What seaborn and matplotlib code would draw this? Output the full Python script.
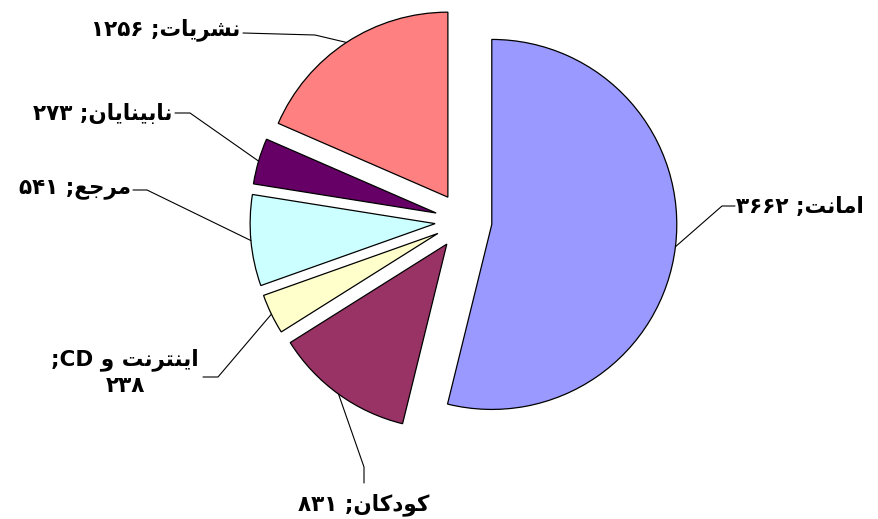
import matplotlib
matplotlib.use("Agg")
import matplotlib.pyplot as plt
import numpy as np
import seaborn as sns

# data (clockwise from 12 o'clock)
labels = ["امانت", "کودکان", "اینترنت و", "مرجع", "نابینایان", "نشریات"]
values = [3662, 831, 238, 541, 273, 1256]
colors = ["#9999FF", "#993366", "#FFFFCC", "#CCFFFF", "#660066", "#FF8080"]

# minimal Arabic-script shaping (matplotlib has no complex text layout)
FORMS = {
    "ا": ("\uFE8D", "\uFE8E"),
    "ب": ("\uFE8F", "\uFE90", "\uFE91", "\uFE92"),
    "ت": ("\uFE95", "\uFE96", "\uFE97", "\uFE98"),
    "ج": ("\uFE9D", "\uFE9E", "\uFE9F", "\uFEA0"),
    "د": ("\uFEA9", "\uFEAA"),
    "ر": ("\uFEAD", "\uFEAE"),
    "ش": ("\uFEB5", "\uFEB6", "\uFEB7", "\uFEB8"),
    "ع": ("\uFEC9", "\uFECA", "\uFECB", "\uFECC"),
    "م": ("\uFEE1", "\uFEE2", "\uFEE3", "\uFEE4"),
    "ن": ("\uFEE5", "\uFEE6", "\uFEE7", "\uFEE8"),
    "و": ("\uFEED", "\uFEEE"),
    "ک": ("\uFB8E", "\uFB8F", "\uFB90", "\uFB91"),
    "ی": ("\uFBFC", "\uFBFD", "\uFBFE", "\uFBFF"),
}
FA_DIGITS = str.maketrans("0123456789", "۰۱۲۳۴۵۶۷۸۹")


def rtl(word):
    out = []
    for i, ch in enumerate(word):
        f = FORMS.get(ch)
        if f is None:
            out.append(ch)
            continue
        prev = word[i - 1] if i > 0 else ""
        nxt = word[i + 1] if i + 1 < len(word) else ""
        join_prev = prev in FORMS and len(FORMS[prev]) == 4
        join_next = len(f) == 4 and nxt in FORMS
        if join_prev and join_next:
            out.append(f[3])
        elif join_prev:
            out.append(f[1])
        elif join_next:
            out.append(f[2])
        else:
            out.append(f[0])
    return "".join(out)[::-1]


def fa(n):
    return str(n).translate(FA_DIGITS)


sns.set_theme(style="white")
plt.rcParams["font.family"] = ["DejaVu Sans"]

R_PX, CX, CY = 185.0, 463.5, 221.0


def px(x, y):
    return (x - CX) / R_PX, (CY - y) / R_PX


fig = plt.figure(figsize=(8.79, 5.19), dpi=100)
ax = fig.add_axes([0, 0, 1, 1])
wedges, _ = ax.pie(values, colors=sns.color_palette(colors), startangle=90,
                   counterclock=False, explode=[0.154] * len(values), radius=1,
                   wedgeprops=dict(edgecolor="black", linewidth=0.9))
ax.set_xlim(px(0, 0)[0], px(879, 0)[0])
ax.set_ylim(px(0, 519)[1], px(0, 0)[1])
ax.set_aspect("auto")
ax.axis("off")

texts = [f"{fa(v)} ;{rtl(n)}" for n, v in zip(labels, values)]
texts[2] = f";CD {rtl(labels[2])}\n{fa(values[2])}"

# label layout: text anchor, alignment, leader knee points (pixels)
layout = [
    ((736, 207), "left", [(735, 206), (722, 206)]),
    ((364, 505), "center", [(364, 483), (364, 467)]),
    ((125, 372), "center", [(203, 377), (218, 377)]),
    ((131, 189), "right", [(133, 190), (147, 190)]),
    ((172, 113), "right", [(175, 113), (190, 113)]),
    ((240, 30), "right", [(243, 33), (315, 35)]),
]

for w, txt, (pos, ha, knees) in zip(wedges, texts, layout):
    ang = np.deg2rad((w.theta1 + w.theta2) / 2)
    ex, ey = w.center[0] + w.r * np.cos(ang), w.center[1] + w.r * np.sin(ang)
    pts = [px(*k) for k in knees] + [(ex, ey)]
    ax.plot([p[0] for p in pts], [p[1] for p in pts], color="black", lw=0.8)
    tx, ty = px(*pos)
    ax.text(tx, ty, txt, ha=ha, va="center", fontsize=15.5, fontweight="bold",
            multialignment="center", linespacing=1.3, color="black")

fig.savefig("out.png", dpi=100)
